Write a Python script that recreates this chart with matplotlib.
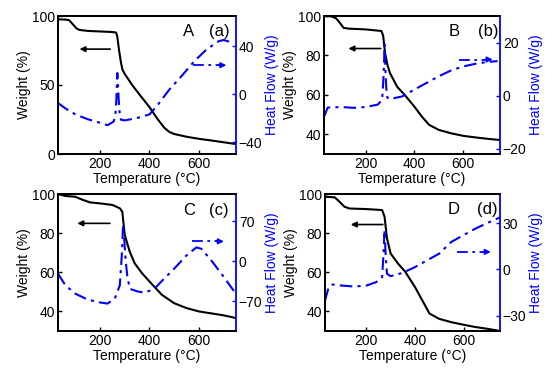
import matplotlib
matplotlib.use('Agg')
import matplotlib.pyplot as plt

plt.rcParams['font.family'] = ['Liberation Sans', 'DejaVu Sans']
plt.rcParams['font.size'] = 10

# ---- panel A ----
tw_a = [30, 60, 75, 90, 105, 117, 150, 200, 250, 265, 270, 277, 285, 291, 300, 330, 360, 400, 430, 460, 480, 500, 550, 600, 650, 700, 750]
w_a = [97.6, 97.4, 97.0, 94.0, 91.0, 89.9, 89.2, 88.8, 88.4, 88.0, 85.0, 75.0, 66.0, 61.0, 58.0, 50.0, 43.0, 34.0, 26.0, 19.0, 16.0, 14.5, 12.5, 11.0, 9.8, 8.5, 7.2]
th_a = [30, 60, 100, 150, 200, 230, 255, 262, 266, 270, 273, 277, 281, 285, 300, 350, 400, 430, 480, 530, 580, 630, 680, 700, 740]
h_a = [-7.5, -12.0, -17.0, -21.0, -24.0, -26.0, -23.0, -18.0, -5.0, 17.5, 5.0, -10.0, -19.0, -21.5, -22.0, -20.0, -17.0, -10.0, 3.6, 15.0, 27.0, 37.0, 44.0, 45.0, 42.6]

# ---- panel B ----
tw_b = [30, 60, 80, 95, 110, 130, 200, 265, 272, 280, 290, 300, 330, 360, 400, 430, 460, 500, 550, 600, 650, 700, 750]
w_b = [100.0, 99.8, 98.8, 96.5, 94.0, 93.6, 93.2, 92.4, 90.0, 81.0, 75.0, 71.0, 64.0, 60.0, 54.0, 49.0, 44.8, 42.2, 40.5, 39.2, 38.4, 37.7, 37.1]
th_b = [30, 45, 100, 150, 200, 250, 268, 274, 278, 282, 286, 290, 300, 350, 400, 450, 500, 550, 600, 650, 700, 740]
h_b = [-8.0, -4.5, -4.3, -4.6, -4.3, -3.4, -1.5, 8.0, 19.3, 8.0, 1.0, -0.9, -1.3, -0.3, 2.3, 4.8, 7.3, 9.5, 11.0, 12.0, 12.7, 13.0]

# ---- panel C ----
tw_c = [30, 60, 100, 130, 160, 200, 250, 280, 290, 300, 320, 340, 370, 400, 450, 500, 550, 600, 650, 700, 750]
w_c = [100.0, 99.0, 98.6, 97.0, 95.7, 95.2, 94.4, 92.7, 91.0, 79.0, 70.6, 64.6, 59.5, 55.3, 48.5, 44.2, 41.7, 40.0, 39.0, 38.0, 36.6]
th_c = [30, 60, 100, 150, 200, 230, 260, 280, 288, 293, 298, 304, 310, 320, 350, 380, 420, 460, 500, 550, 590, 610, 650, 700, 750]
h_c = [-21.6, -42.0, -56.6, -67.0, -72.0, -74.0, -65.0, -42.0, 10.0, 63.0, 38.0, 0.0, -24.5, -48.0, -52.5, -55.0, -48.0, -30.0, -12.8, 10.5, 24.5, 22.0, 1.7, -27.0, -57.0]

# ---- panel D ----
tw_d = [30, 70, 90, 110, 130, 200, 265, 275, 285, 300, 330, 360, 400, 430, 460, 500, 550, 600, 650, 700, 750]
w_d = [98.6, 98.3, 96.0, 93.5, 92.6, 92.3, 91.8, 88.4, 77.3, 69.6, 64.5, 60.3, 52.5, 45.7, 38.9, 36.2, 34.5, 33.2, 32.0, 31.1, 30.0]
th_d = [30, 45, 60, 100, 150, 200, 240, 265, 270, 275, 280, 285, 300, 350, 400, 450, 500, 550, 600, 650, 700, 750]
h_d = [-20.3, -11.6, -9.8, -10.5, -11.1, -10.5, -8.3, -5.0, 8.0, 25.5, 8.0, -2.8, -4.4, -2.2, 1.5, 5.9, 10.3, 17.9, 22.3, 26.6, 30.3, 33.8]

panels = [
    dict(tw=tw_a, w=w_a, th=th_a, h=h_a, wlim=(0, 100), wticks=[0, 50, 100],
         hlim=(-50, 65), hticks=[-40, 0, 40], letter='A', tag='(a)',
         txt=(557, 682, 88.6), warr=(241, 117, 76), harr=(577, 711, 24),
         pos=[58, 16, 236, 154]),
    dict(tw=tw_b, w=w_b, th=th_b, h=h_b, wlim=(30, 100), wticks=[40, 60, 80, 100],
         hlim=(-22, 30), hticks=[-20, 0, 20], letter='B', tag='(b)',
         txt=(561, 700, 92), warr=(262, 130, 83.5), harr=(582, 720, 13.6),
         pos=[324, 16, 500, 154]),
    dict(tw=tw_c, w=w_c, th=th_c, h=h_c, wlim=(30, 100), wticks=[40, 60, 80, 100],
         hlim=(-122, 118), hticks=[-70, 0, 70], letter='C', tag='(c)',
         txt=(559, 680, 91.8), warr=(240, 108, 85), harr=(573, 701, 35),
         pos=[58, 194, 236, 331]),
    dict(tw=tw_d, w=w_d, th=th_d, h=h_d, wlim=(30, 100), wticks=[40, 60, 80, 100],
         hlim=(-40, 49), hticks=[-30, 0, 30], letter='D', tag='(d)',
         txt=(560, 698, 92.3), warr=(268, 136, 84.4), harr=(575, 712, 11.4),
         pos=[325, 194, 500, 331]),
]

dash = (0, (6, 2.5, 1.5, 2.5))

W, H = 554, 370
fig = plt.figure(figsize=(W / 100, H / 100), dpi=100)

for p in panels:
    x0, y0, x1, y1 = p['pos']
    ax = fig.add_axes([x0 / W, 1 - y1 / H, (x1 - x0) / W, (y1 - y0) / H])
    ax2 = ax.twinx()

    ax.plot(p['tw'], p['w'], color='black', lw=1.5)
    ax2.plot(p['th'], p['h'], color='blue', lw=1.5, ls=dash)

    ax.set_xlim(30, 750)
    ax.set_ylim(*p['wlim'])
    ax.set_yticks(p['wticks'])
    ax.set_xticks([200, 400, 600])
    ax2.set_ylim(*p['hlim'])
    ax2.set_yticks(p['hticks'])

    for s in ['left', 'top', 'bottom']:
        ax.spines[s].set_linewidth(1.3)
        ax2.spines[s].set_linewidth(1.3)
    ax2.spines['right'].set_color('blue')
    ax2.spines['right'].set_linewidth(1.3)
    ax.spines['right'].set_visible(False)

    ax.tick_params(direction='in', length=3, width=1, pad=2)
    ax2.tick_params(direction='in', length=3, width=1, pad=2, color='blue')

    ax.set_xlabel('Temperature (°C)', labelpad=1)
    ax.set_ylabel('Weight (%)', labelpad=1)
    ax2.set_ylabel('Heat Flow (W/g)', color='blue', labelpad=2)

    tx_l, tx_t, ty = p['txt']
    ax.text(tx_l, ty, p['letter'], fontsize=12, ha='center', va='center')
    ax.text(tx_t, ty, p['tag'], fontsize=12, ha='center', va='center')

    # arrow to weight axis
    a0, a1, ay = p['warr']
    ax.annotate('', xy=(a1, ay), xytext=(a0, ay),
                arrowprops=dict(arrowstyle='-|>', color='black', lw=1.2,
                                mutation_scale=8, shrinkA=0, shrinkB=0))
    # arrow to heat flow axis
    b0, b1, by = p['harr']
    ax2.plot([b0, b1 - 25], [by, by], color='blue', lw=1.3, ls=dash)
    ax2.annotate('', xy=(b1, by), xytext=(b1 - 30, by),
                 arrowprops=dict(arrowstyle='-|>', color='blue', lw=1.2,
                                 mutation_scale=8, shrinkA=0, shrinkB=0))

fig.savefig('out.png', dpi=100)
